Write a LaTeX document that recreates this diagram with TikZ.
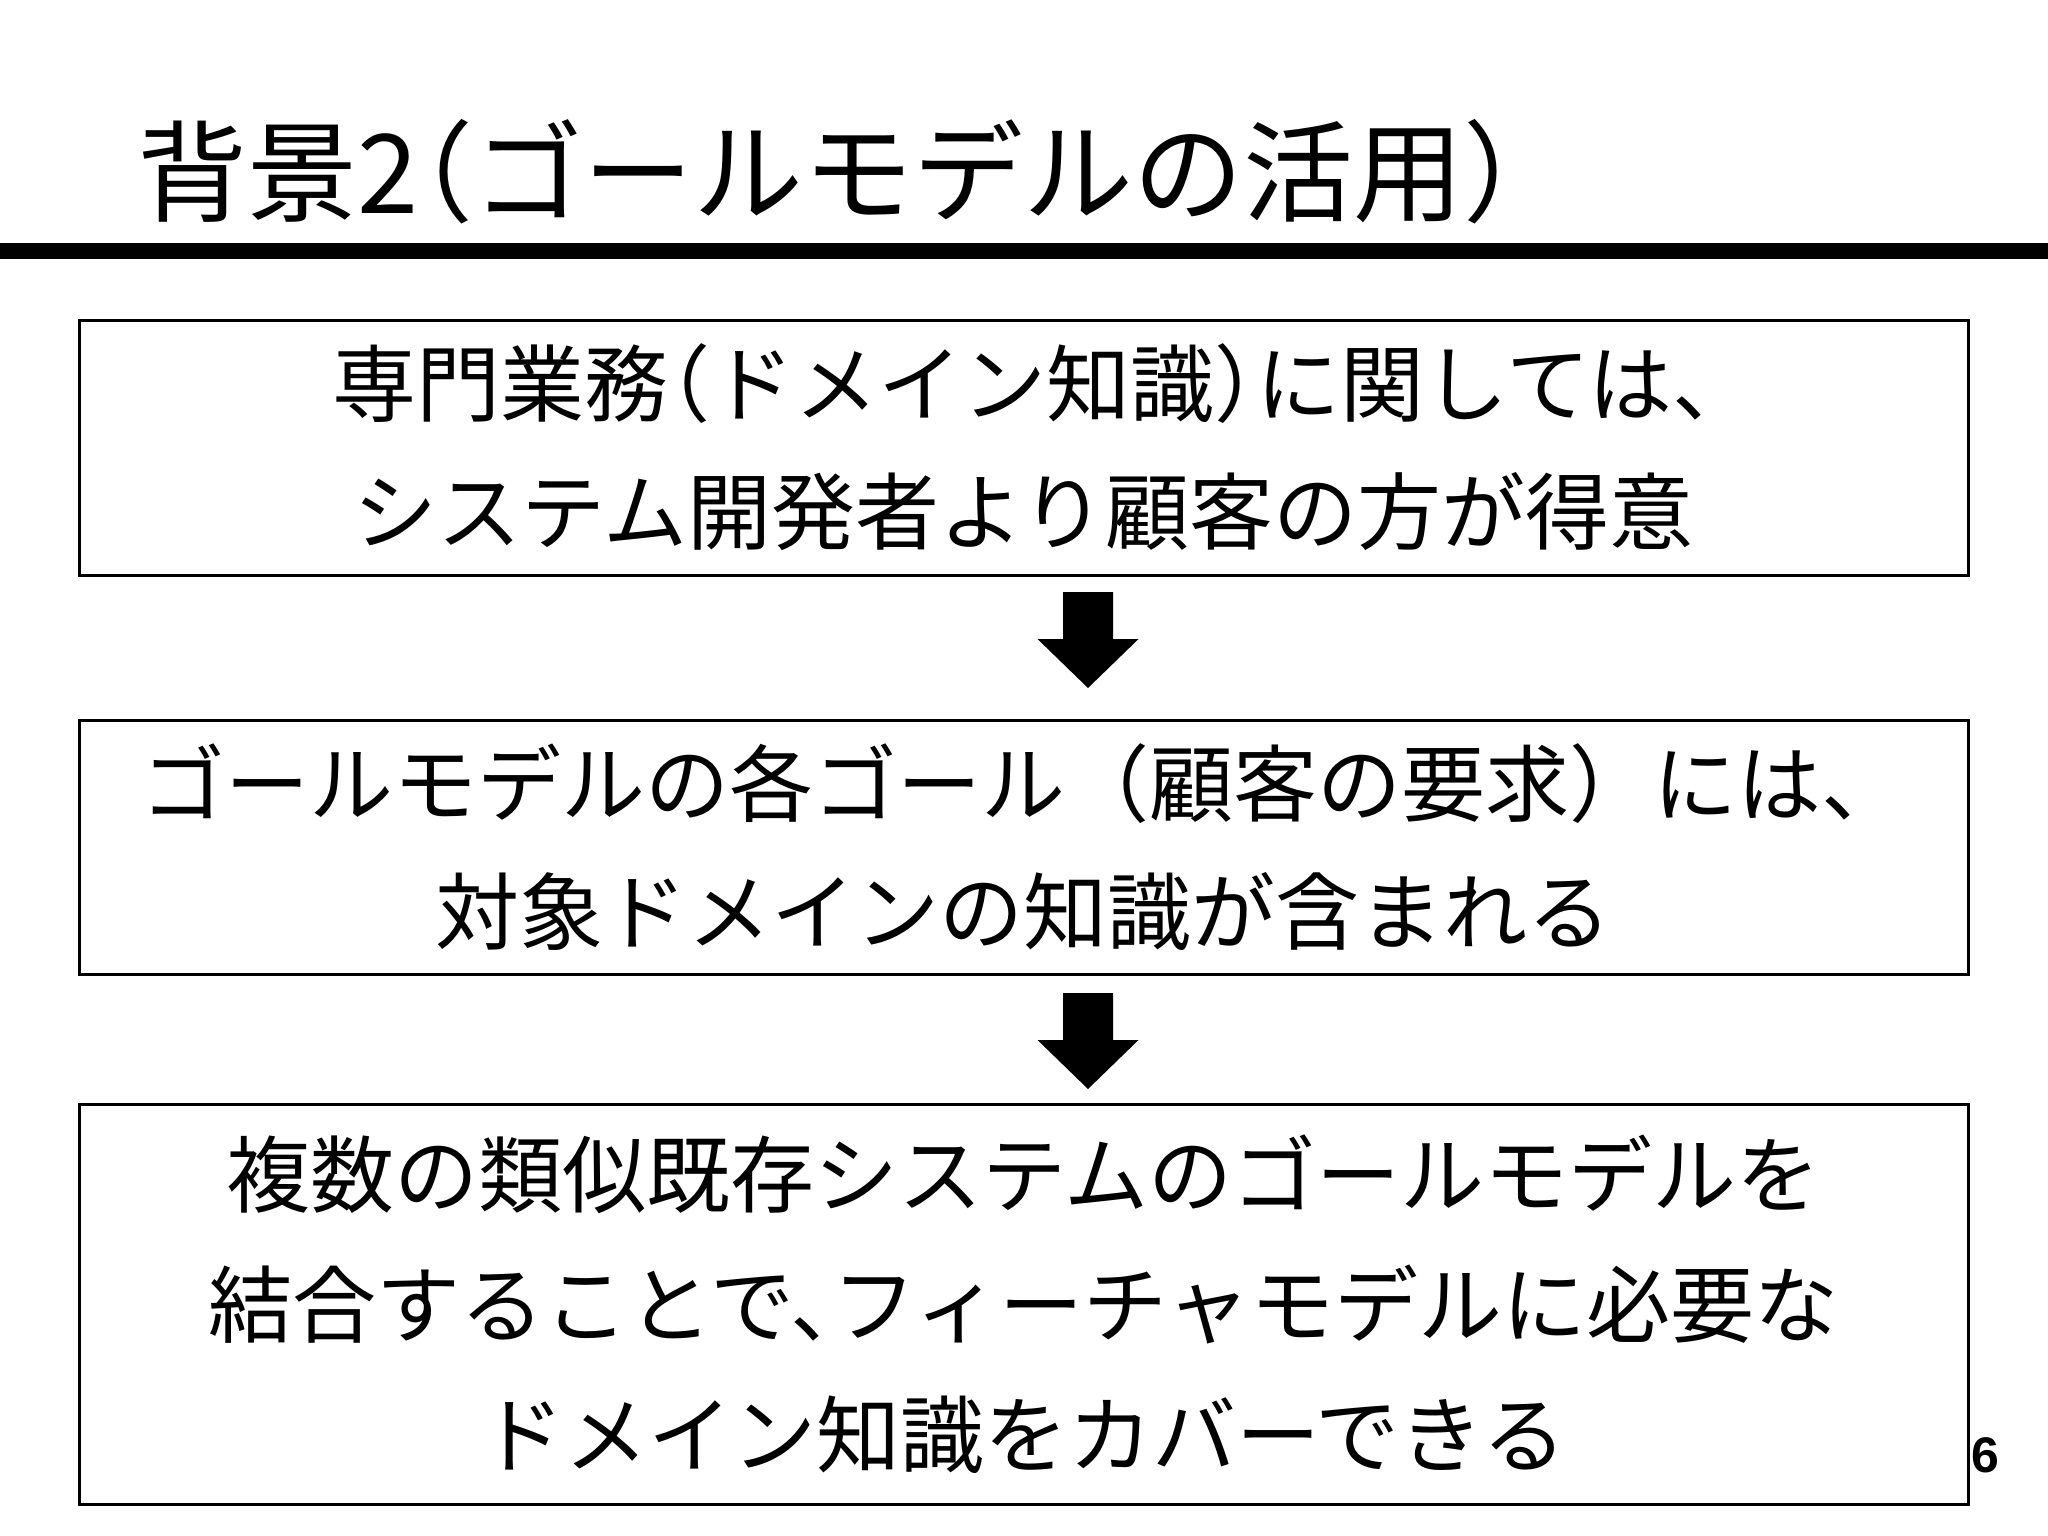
\documentclass[tikz,border=0pt]{standalone}
\usepackage{fontspec}
\setmainfont{Noto Sans CJK JP}
\newfontfamily\jpfont{Noto Sans CJK JP}
\newfontfamily\jphalt[RawFeature=+halt]{Noto Sans CJK JP}
\newfontfamily\numfont{Liberation Sans}
\begin{document}
\begin{tikzpicture}[x=1pt,y=-1pt,
  txtbox/.style={draw=black, line width=3pt, minimum width=1889pt, inner sep=0pt, align=center, font=\jpfont\fontsize{84}{128}\selectfont},
  arrowfill/.style={fill=black}]
\useasboundingbox (0,0) rectangle (2048,1536);
\fill (0,243) rectangle (2048,259);
\node[anchor=west, inner sep=0pt, font=\jphalt\fontsize{110}{120}\selectfont] (title) at (137,172) {背景2（ゴールモデルの活用）};
\node[txtbox, minimum height=255pt] (b1) at (1023.5,447.5) {{\jphalt 専門業務（ドメイン知識）に関しては、}\\システム開発者より顧客の方が得意};
\node[txtbox, minimum height=254pt] (b2) at (1023.5,847) {ゴールモデルの各ゴール（顧客の要求）には、\\対象ドメインの知識が含まれる};
\node[txtbox, minimum height=400pt, font=\jpfont\fontsize{84}{130}\selectfont] (b3) at (1023.5,1304) {複数の類似既存システムのゴールモデルを\\{\jphalt 結合することで、}フィーチャモデルに必要な\\ドメイン知識をカバーできる};
\coordinate (a1) at (1088,592);
\coordinate (a2) at (1088,993);
\foreach \c in {a1,a2}{
  \fill[arrowfill] (\c) ++(-25,0) -- ++(50,0) -- ++(0,47) -- ++(25.5,0) -- ++(-50.5,49) -- ++(-50.5,-49) -- ++(25.5,0) -- cycle;
}
\node[anchor=west, inner sep=0pt, font=\numfont\bfseries\fontsize{50}{60}\selectfont] (pg) at (1971,1455) {6};
\end{tikzpicture}
\end{document}
